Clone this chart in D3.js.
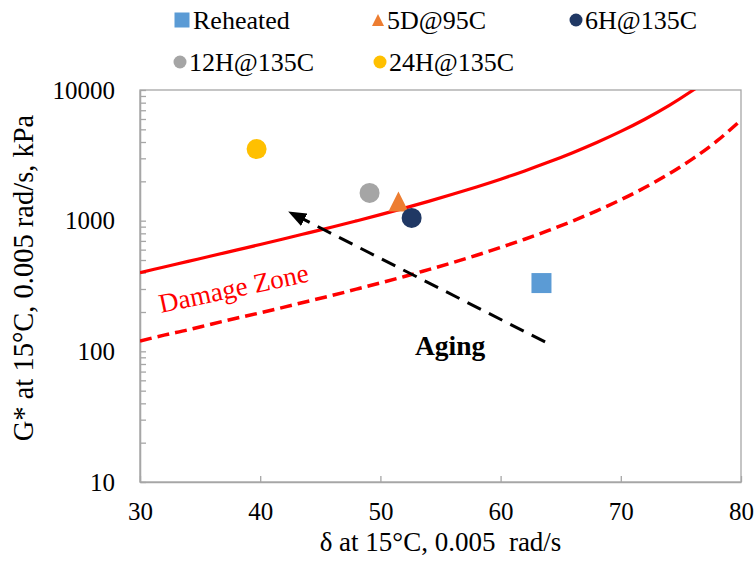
<!DOCTYPE html>
<html><head><meta charset="utf-8">
<script src="https://cdn.jsdelivr.net/npm/d3@7"></script>
<style>body{margin:0;background:#fff}svg{display:block}text{font-family:"Liberation Serif","Times New Roman",serif}</style>
</head><body><svg id="c" width="756" height="567"></svg>
<script>
// Sample points
const seriesNames = ["Reheated","5D@95C","6H@135C","12H@135C","24H@135C"];
const seriesColors = ["#5B9BD5","#ED7D31","#203864","#A5A5A5","#FFC000"];
const seriesShapes = ["square","triangle","circle","circle","circle"];
const phaseAngle = [63.4, 51.5, 52.6, 49.1, 39.7];
const gStar = [333, 1400, 1050, 1630, 3530];

// Damage zone boundary curves
const solidDelta = [30,32,34,36,38,40,42,44,46,48,50,52,54,56,58,60,62,64,66,68,70,72,74,76,77];
const solidG = [400,442,488,539,595,657,727,806,894,996,1112,1247,1405,1591,1812,2078,2404,2806,3314,3965,4820,5976,7590,9950,11550];
const dashDelta = [30,32,34,36,38,40,42,44,46,48,50,52,54,56,58,60,62,64,66,68,70,72,74,76,78,80];
const dashG = [120,133,146,162,179,197,218,242,268,299,334,374,422,477,544,624,721,842,994,1190,1446,1793,2277,2985,4073,5879];

// Aging arrow (from, to)
const arrowDelta = [63.7, 42.4];
const arrowG = [118, 1165];

const xTicks = [30,40,50,60,70,80];
const yTicks = [10,100,1000,10000];
const yMinor = [20,30,40,50,60,70,80,90,200,300,400,500,600,700,800,900,2000,3000,4000,5000,6000,7000,8000,9000];

const svg = d3.select("#c");
const L=140,R=741,T=90,B=482;
const x = d3.scaleLinear().domain([30,80]).range([L,R]);
const y = d3.scaleLog().domain([10,10000]).range([B,T]);
const axisColor="#a6a6a6";

svg.append("defs").append("clipPath").attr("id","clip").append("rect")
  .attr("x",L).attr("y",T).attr("width",R-L).attr("height",B-T);
const mk = svg.select("defs").append("marker").attr("id","ah")
  .attr("markerUnits","userSpaceOnUse").attr("viewBox","0 0 18 14")
  .attr("markerWidth",18).attr("markerHeight",14).attr("refX",17).attr("refY",7).attr("orient","auto");
mk.append("path").attr("d","M0,0L18,7L0,14Z").attr("fill","#000");

// border
svg.append("rect").attr("x",L).attr("y",T).attr("width",R-L).attr("height",B-T)
  .attr("fill","none").attr("stroke",axisColor).attr("stroke-width",1.3);

// axes
const gx = svg.append("g").attr("transform",`translate(0,${B})`)
  .call(d3.axisBottom(x).tickValues(xTicks).tickFormat(d3.format("d")).tickSizeInner(-6).tickSizeOuter(0).tickPadding(20));
const gy = svg.append("g").attr("transform",`translate(${L},0)`)
  .call(d3.axisLeft(y).tickValues(yTicks).tickFormat(d3.format("d")).tickSizeInner(-6).tickSizeOuter(0).tickPadding(25));
const gym = svg.append("g").attr("transform",`translate(${L},0)`)
  .call(d3.axisLeft(y).tickValues(yMinor).tickFormat("").tickSizeInner(-6).tickSizeOuter(0));
[gx,gy,gym].forEach(g=>{
  g.select(".domain").attr("stroke",axisColor).attr("stroke-width",1.3);
  g.selectAll(".tick line").attr("stroke",axisColor).attr("stroke-width",1.3);
  g.selectAll("text").attr("font-size",25).attr("fill","#000").attr("font-family","Liberation Serif, Times New Roman, serif");
});

// axis titles
svg.append("text").attr("x",(L+R)/2).attr("y",551).attr("text-anchor","middle")
  .attr("font-size",27).text("δ at 15°C, 0.005  rad/s").style("white-space","pre");
svg.append("text").attr("transform","translate(33,278) rotate(-90)").attr("text-anchor","middle")
  .attr("font-size",28.5).text("G* at 15°C, 0.005 rad/s, kPa");

// curves
const line = d3.line().x(d=>x(d[0])).y(d=>y(d[1])).curve(d3.curveCatmullRom);
const plot = svg.append("g").attr("clip-path","url(#clip)");
plot.append("path").datum(solidDelta.map((d,i)=>[d,solidG[i]])).attr("d",line)
  .attr("fill","none").attr("stroke","#ff0000").attr("stroke-width",3.2);
plot.append("path").datum(dashDelta.map((d,i)=>[d,dashG[i]])).attr("d",line)
  .attr("fill","none").attr("stroke","#ff0000").attr("stroke-width",3.5).attr("stroke-dasharray","12,6");

// arrow
plot.append("line").attr("x1",x(arrowDelta[0])).attr("y1",y(arrowG[0]))
  .attr("x2",x(arrowDelta[1])).attr("y2",y(arrowG[1]))
  .attr("stroke","#000").attr("stroke-width",3).attr("stroke-dasharray","15,9")
  .attr("marker-end","url(#ah)");

// markers
function drawMarker(g,shape,color,cx,cy,s){
  if(shape==="square") g.append("rect").attr("x",cx-s/2).attr("y",cy-s/2).attr("width",s).attr("height",s).attr("fill",color);
  else if(shape==="triangle") g.append("path").attr("d",`M${cx},${cy-s*0.5}L${cx+s*0.5},${cy+s*0.5}L${cx-s*0.5},${cy+s*0.5}Z`).attr("fill",color);
  else g.append("circle").attr("cx",cx).attr("cy",cy).attr("r",s/2).attr("fill",color);
}
const pts = svg.append("g");
phaseAngle.forEach((d,i)=>drawMarker(pts,seriesShapes[i],seriesColors[i],x(d),y(gStar[i]),20));

// annotations
svg.append("text").attr("transform","translate(161,313) rotate(-12)").attr("font-size",27)
  .attr("fill","#ff0000").text("Damage Zone");
svg.append("text").attr("x",415).attr("y",355).attr("font-size",27.5).attr("font-weight","bold").text("Aging");

// legend
const legPos = [[182,20],[378,20],[576,20],[180,62],[380,62]];
const leg = svg.append("g");
seriesNames.forEach((n,i)=>{
  const [lx,ly]=legPos[i];
  drawMarker(leg,seriesShapes[i],seriesColors[i],lx,ly,seriesShapes[i]==="square"?15:(seriesShapes[i]==="triangle"?12:13));
  leg.append("text").attr("x",lx+(seriesShapes[i]==="square"?11:9)).attr("y",ly+9).attr("font-size",26).text(n);
});
</script></body></html>
